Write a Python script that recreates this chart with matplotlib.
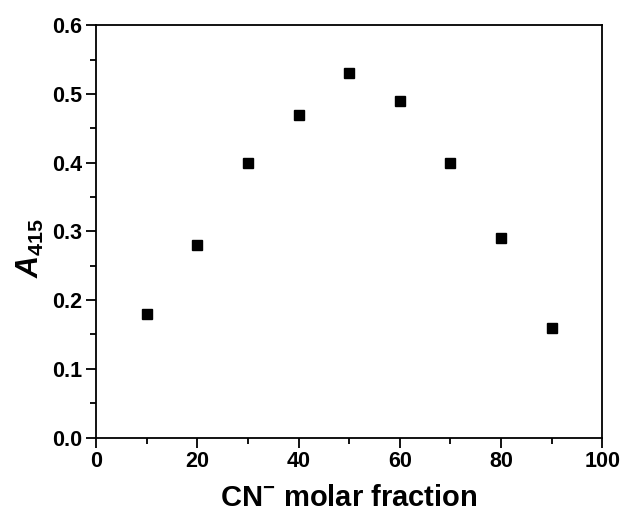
import matplotlib

matplotlib.use("Agg")
import matplotlib.pyplot as plt
from matplotlib.ticker import MultipleLocator, FormatStrFormatter

# Job's plot data
cn_fraction = [10, 20, 30, 40, 50, 60, 70, 80, 90]
absorbance = [0.18, 0.28, 0.40, 0.47, 0.53, 0.49, 0.40, 0.29, 0.16]

plt.rcParams["font.family"] = ["Liberation Sans", "DejaVu Sans"]
plt.rcParams["font.weight"] = "bold"
plt.rcParams["mathtext.fontset"] = "custom"
plt.rcParams["mathtext.rm"] = "Liberation Sans"
plt.rcParams["mathtext.bf"] = "Liberation Sans:bold"
plt.rcParams["mathtext.bfit"] = "Liberation Sans:bold:italic"

fig = plt.figure(figsize=(6.24, 5.13), dpi=100)
ax = fig.add_axes([0.154, 0.147, 0.811, 0.804])

ax.plot(cn_fraction, absorbance, "s", color="black", markersize=7.2)

ax.set_xlim(0, 100)
ax.set_ylim(0, 0.6)
ax.xaxis.set_major_locator(MultipleLocator(20))
ax.xaxis.set_minor_locator(MultipleLocator(10))
ax.yaxis.set_major_locator(MultipleLocator(0.1))
ax.yaxis.set_minor_locator(MultipleLocator(0.05))
ax.yaxis.set_major_formatter(FormatStrFormatter("%.1f"))

ax.tick_params(which="major", direction="out", length=7, width=1.3, labelsize=15.5, pad=3)
ax.tick_params(which="minor", direction="out", length=4, width=1.3)
for s in ax.spines.values():
    s.set_linewidth(1.3)

ax.set_xlabel(r"CN$^{\mathbf{-}}$ molar fraction", fontsize=21, fontweight="bold", labelpad=8)
fig.text(0.048, 0.517, r"$\mathbfit{A}_{\mathrm{415}}$", fontsize=22, rotation=90,
         ha="center", va="center")

fig.savefig("out.png", dpi=100)
